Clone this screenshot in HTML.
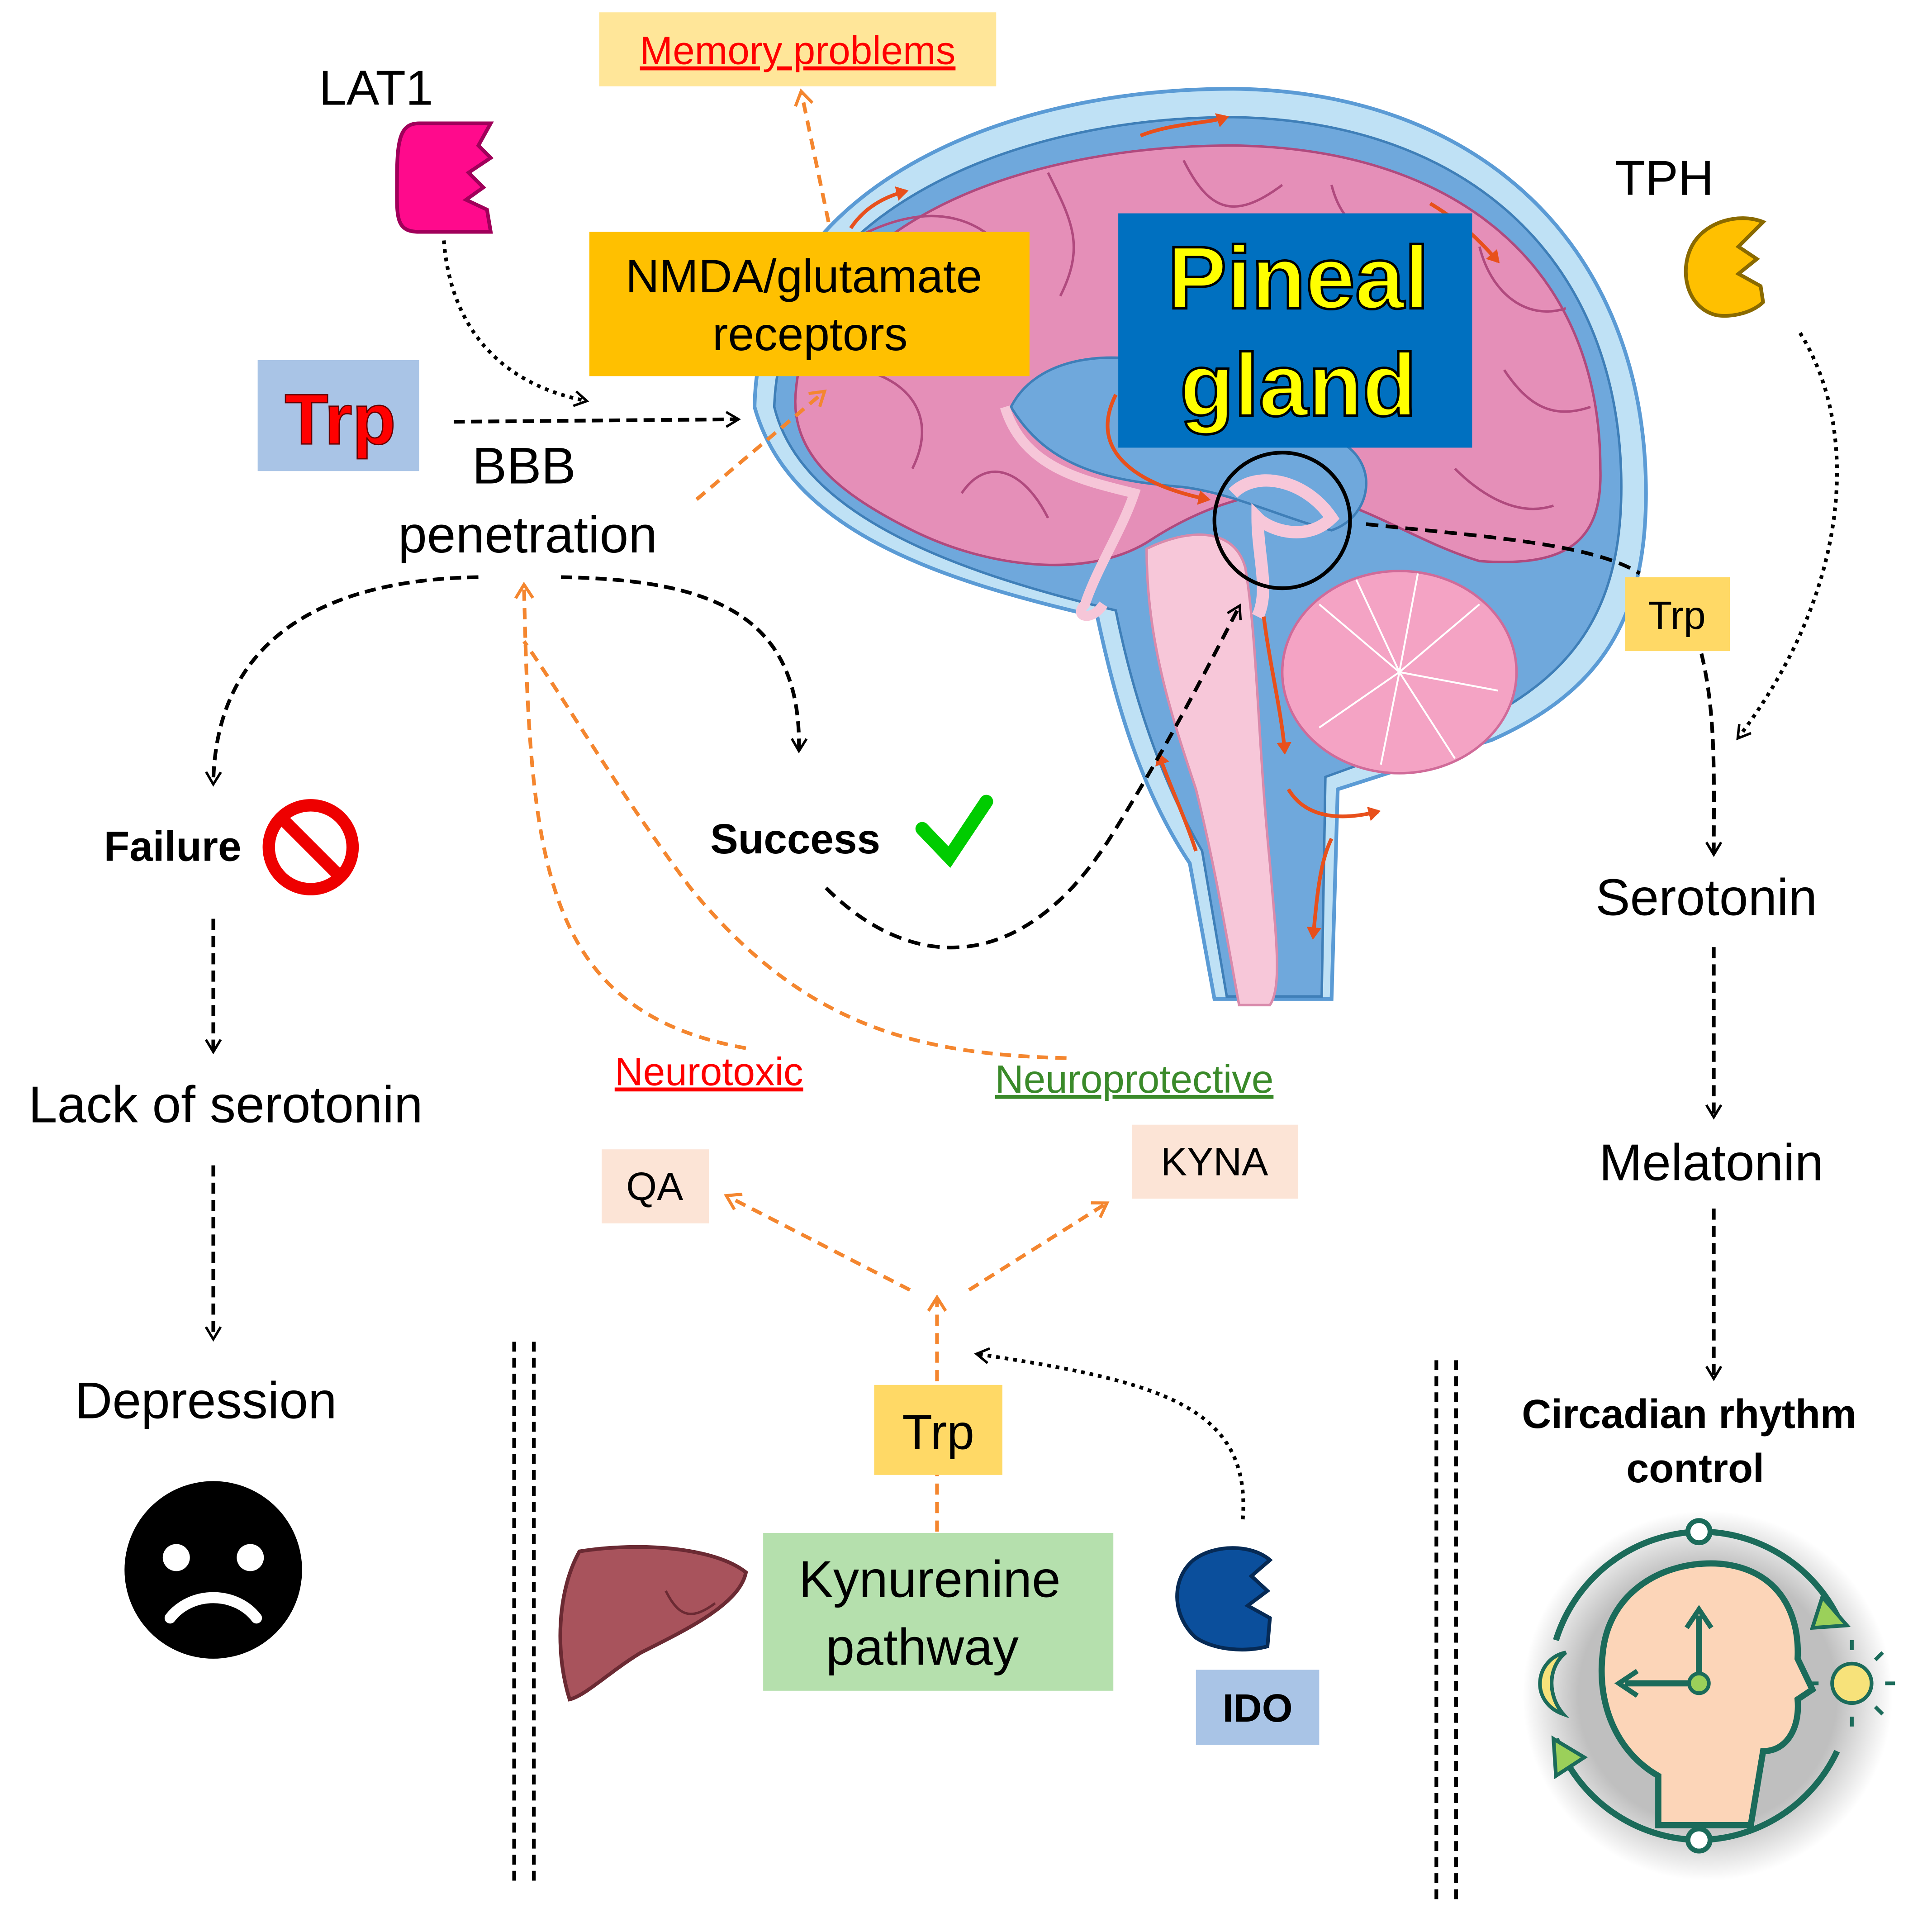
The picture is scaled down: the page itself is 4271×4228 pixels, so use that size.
<!DOCTYPE html>
<html><head><meta charset="utf-8"><style>
html,body{margin:0;padding:0;background:#fff;}
svg{display:block;}
text{font-family:"Liberation Sans",Arial,sans-serif;}
</style></head><body>
<svg width="4271" height="4228" viewBox="0 0 1567 1551" preserveAspectRatio="xMinYMin meet" xmlns="http://www.w3.org/2000/svg">
<defs>
<marker id="ab" markerWidth="14" markerHeight="14" refX="10" refY="7" orient="auto" markerUnits="userSpaceOnUse"><path d="M1,1 L11,7 L1,13" fill="none" stroke="#000" stroke-width="2"/></marker>
<marker id="ao" markerWidth="16" markerHeight="16" refX="11" refY="8" orient="auto" markerUnits="userSpaceOnUse"><path d="M1,1 L12,8 L1,15" fill="none" stroke="#f4862f" stroke-width="2.5"/></marker>
<marker id="ar" markerWidth="14" markerHeight="14" refX="8" refY="7" orient="auto" markerUnits="userSpaceOnUse"><path d="M0,1 L10,7 L0,13 Z" fill="#e8501c"/></marker>
<radialGradient id="sh" cx="0.5" cy="0.5" r="0.5"><stop offset="0.7" stop-color="#000" stop-opacity="0.25"/><stop offset="1" stop-color="#000" stop-opacity="0"/></radialGradient>
</defs>
<rect width="1567" height="1551" fill="#fff"/>

<path d="M612,330 C615,160 800,72 1000,72 C1200,74 1335,200 1335,400 C1335,500 1300,560 1210,600 L1085,640 L1080,810 L985,810 L965,700 C925,640 905,570 890,500 C760,470 640,430 612,330 Z" fill="#bfe1f5" stroke="#5b9bd5" stroke-width="3"/>
<path d="M628,330 C632,180 810,95 1000,95 C1190,98 1315,210 1315,395 C1315,490 1280,545 1200,585 L1075,630 L1072,808 L995,808 L975,690 C940,630 918,560 905,495 C780,465 650,420 628,330 Z" fill="#6fa8dc" stroke="#3f7fb8" stroke-width="2"/>
<path d="M645,325 C650,190 815,118 1000,118 C1180,120 1298,215 1298,380 C1300,440 1270,460 1200,455 C1150,440 1110,410 1060,400 C1010,395 960,420 930,440 C880,470 800,460 740,430 C680,400 645,370 645,325 Z" fill="#e58fb8" stroke="#b04a7e" stroke-width="2"/>
<path d="M700,190 C760,160 800,180 820,210 M850,140 C870,180 880,200 860,240 M960,130 C980,170 1000,180 1040,150 M1080,150 C1090,190 1120,200 1150,180 M1200,200 C1210,240 1240,260 1270,250 M700,300 C740,310 760,340 740,380 M780,400 C800,370 830,380 850,420 M1220,300 C1240,330 1260,340 1290,330 M1180,380 C1200,400 1230,420 1260,410" fill="none" stroke="#b04a7e" stroke-width="2"/>
<path d="M820,330 C840,290 900,280 960,300 C1000,320 1050,330 1090,360 C1120,380 1110,420 1080,430 C1040,420 1000,400 960,395 C900,390 850,380 820,330 Z" fill="#6fa8dc" stroke="#3f7fb8" stroke-width="2"/>
<path d="M815,330 C830,380 880,390 920,400 C910,430 890,460 880,490 C870,500 885,505 895,490" fill="none" stroke="#f6c6d8" stroke-width="8"/>
<path d="M930,445 C960,430 1000,425 1010,460 C1020,520 1020,600 1030,700 C1035,760 1040,800 1030,815 L1005,815 C995,760 985,700 970,640 C950,580 930,520 930,445 Z" fill="#f7c7d9" stroke="#d98aab" stroke-width="2"/>
<ellipse cx="1135" cy="545" rx="95" ry="82" fill="#f4a3c4" stroke="#d06b99" stroke-width="2"/>
<path d="M1135,545 L1070,490 M1135,545 L1100,470 M1135,545 L1150,465 M1135,545 L1200,490 M1135,545 L1215,560 M1135,545 L1180,615 M1135,545 L1120,620 M1135,545 L1070,590" stroke="#fff" stroke-width="1.5"/>
<path d="M1000,400 C1020,380 1060,390 1080,420 C1060,440 1030,430 1020,420 C1020,450 1030,480 1020,500" fill="none" stroke="#f7c7d9" stroke-width="10"/>
<circle cx="1040" cy="422" r="55" fill="none" stroke="#000" stroke-width="3"/>
<g fill="none" stroke="#e8501c" stroke-width="3" marker-end="url(#ar)">
<path d="M905,320 C880,370 930,395 980,405"/>
<path d="M925,110 C950,100 980,100 995,95"/>
<path d="M690,185 C700,170 715,160 735,155"/>
<path d="M1160,165 C1185,180 1200,195 1215,212"/>
<path d="M1025,500 C1030,540 1040,580 1042,610"/>
<path d="M970,690 C960,660 950,640 940,612"/>
<path d="M1045,640 C1060,665 1090,665 1118,658"/>
<path d="M1080,680 C1070,700 1068,730 1065,760"/>
</g>

<rect x="486" y="10" width="322" height="60" fill="#ffe699"/>
<text x="647" y="52" font-size="32" fill="#ff0000" text-anchor="middle" text-decoration="underline">Memory problems</text>

<text x="305" y="85" font-size="40" text-anchor="middle">LAT1</text>
<path d="M340,100 L398,100 L388,118 L398,128 L380,140 L392,152 L378,162 L395,170 L398,188 L340,188 C320,188 322,175 322,145 C322,112 325,100 340,100 Z" fill="#ff0a8c" stroke="#a0005a" stroke-width="3"/>

<rect x="209" y="292" width="131" height="90" fill="#a9c4e6"/>
<text x="276" y="360" font-size="58" font-weight="bold" fill="#ff0000" stroke="#600" stroke-width="1" text-anchor="middle">Trp</text>

<rect x="478" y="188" width="357" height="117" fill="#ffc000"/>
<text x="652" y="237" font-size="38" text-anchor="middle">NMDA/glutamate</text>
<text x="657" y="284" font-size="38" text-anchor="middle">receptors</text>

<text x="425" y="392" font-size="42" text-anchor="middle">BBB</text>
<text x="428" y="448" font-size="42" text-anchor="middle">penetration</text>

<rect x="907" y="173" width="287" height="190" fill="#0070c0"/>
<text x="1053" y="250" font-size="72" font-weight="bold" fill="#ffff00" stroke="#000" stroke-width="2" text-anchor="middle">Pineal</text>
<text x="1053" y="337" font-size="72" font-weight="bold" fill="#ffff00" stroke="#000" stroke-width="2" text-anchor="middle">gland</text>

<text x="1350" y="158" font-size="40" text-anchor="middle">TPH</text>
<path d="M1425,185 L1410,200 L1425,210 L1410,222 L1428,232 L1430,245 C1420,255 1400,258 1390,255 C1368,248 1362,220 1372,200 C1382,180 1410,172 1430,180 Z" fill="#ffc000" stroke="#8a6a00" stroke-width="3"/>

<rect x="1318" y="468" width="85" height="60" fill="#ffd966"/>
<text x="1360" y="510" font-size="32" text-anchor="middle">Trp</text>

<text x="1384" y="742" font-size="42" text-anchor="middle">Serotonin</text>
<text x="1388" y="957" font-size="42" text-anchor="middle">Melatonin</text>
<text x="1370" y="1158" font-size="33" font-weight="bold" text-anchor="middle">Circadian rhythm</text>
<text x="1375" y="1202" font-size="33" font-weight="bold" text-anchor="middle">control</text>

<text x="140" y="698" font-size="34" font-weight="bold" text-anchor="middle">Failure</text>
<circle cx="252" cy="687" r="34" fill="#fff" stroke="#e00" stroke-width="10"/>
<line x1="230" y1="665" x2="274" y2="709" stroke="#e00" stroke-width="10"/>
<text x="183" y="910" font-size="42" text-anchor="middle">Lack of serotonin</text>
<text x="167" y="1150" font-size="42" text-anchor="middle">Depression</text>
<circle cx="173" cy="1273" r="72" fill="#000"/>
<circle cx="143" cy="1263" r="11" fill="#fff"/>
<circle cx="203" cy="1263" r="11" fill="#fff"/>
<path d="M138,1312 C155,1290 191,1290 208,1312" fill="none" stroke="#fff" stroke-width="9" stroke-linecap="round"/>

<text x="645" y="692" font-size="34" font-weight="bold" text-anchor="middle">Success</text>
<path d="M748,672 L770,695 L800,650" fill="none" stroke="#00cc00" stroke-width="11" stroke-linecap="round"/>

<text x="575" y="880" font-size="32" fill="#ff0000" text-anchor="middle" text-decoration="underline">Neurotoxic</text>
<text x="920" y="886" font-size="32" fill="#3a8a2a" text-anchor="middle" text-decoration="underline">Neuroprotective</text>

<rect x="488" y="932" width="87" height="60" fill="#fce4d6"/>
<text x="531" y="973" font-size="32" text-anchor="middle">QA</text>
<rect x="918" y="912" width="135" height="60" fill="#fce4d6"/>
<text x="985" y="953" font-size="32" text-anchor="middle">KYNA</text>

<rect x="709" y="1123" width="104" height="73" fill="#ffd966"/>
<text x="761" y="1175" font-size="40" text-anchor="middle">Trp</text>

<rect x="619" y="1243" width="284" height="128" fill="#b5e0ad"/>
<text x="754" y="1295" font-size="42" text-anchor="middle">Kynurenine</text>
<text x="748" y="1350" font-size="42" text-anchor="middle">pathway</text>

<path d="M470,1258 C520,1250 580,1255 605,1275 C600,1300 560,1320 520,1340 C495,1355 475,1375 462,1378 C450,1340 452,1290 470,1258 Z" fill="#a8535c" stroke="#6b2a33" stroke-width="3"/>
<path d="M540,1290 C550,1310 560,1315 580,1300" fill="none" stroke="#6b2a33" stroke-width="2"/>

<path d="M1030,1265 L1015,1278 L1028,1290 L1012,1302 L1030,1312 L1028,1335 C1010,1340 985,1338 970,1328 C950,1310 950,1280 968,1265 C985,1252 1015,1252 1030,1265 Z" fill="#0b4f9c" stroke="#062a55" stroke-width="3"/>
<rect x="970" y="1354" width="100" height="61" fill="#a9c4e6"/>
<text x="1020" y="1396" font-size="32" font-weight="bold" text-anchor="middle">IDO</text>

<g stroke="#000" stroke-width="3" stroke-dasharray="8,5">
<line x1="417" y1="1088" x2="417" y2="1525"/><line x1="433" y1="1088" x2="433" y2="1525"/>
<line x1="1165" y1="1103" x2="1165" y2="1540"/><line x1="1181" y1="1103" x2="1181" y2="1540"/>
</g>

<circle cx="1385" cy="1375" r="150" fill="url(#sh)"/>
<path d="M1378,1242 A125,125 0 0 1 1490,1310" fill="none" stroke="#1b6b5a" stroke-width="5"/>
<path d="M1490,1420 A125,125 0 0 1 1378,1492" fill="none" stroke="#1b6b5a" stroke-width="5"/>
<path d="M1378,1492 A125,125 0 0 1 1262,1410" fill="none" stroke="#1b6b5a" stroke-width="5"/>
<path d="M1262,1330 A125,125 0 0 1 1378,1242" fill="none" stroke="#1b6b5a" stroke-width="5"/>
<circle cx="1378" cy="1242" r="9" fill="#fff" stroke="#1b6b5a" stroke-width="4"/>
<circle cx="1378" cy="1492" r="9" fill="#fff" stroke="#1b6b5a" stroke-width="4"/>
<path d="M1478,1295 L1498,1318 L1470,1320 Z" fill="#9bd05a" stroke="#1b6b5a" stroke-width="3"/>
<path d="M1260,1410 L1262,1440 L1285,1425 Z" fill="#9bd05a" stroke="#1b6b5a" stroke-width="3"/>
<path d="M1345,1480 L1345,1440 C1310,1420 1295,1380 1300,1340 C1305,1290 1350,1265 1395,1268 C1440,1272 1460,1305 1458,1345 L1470,1370 L1458,1378 C1460,1400 1450,1420 1430,1420 L1420,1480 Z" fill="#fcd5b8" stroke="#1b6b5a" stroke-width="5"/>
<line x1="1378" y1="1365" x2="1378" y2="1310" stroke="#1b6b5a" stroke-width="5"/>
<line x1="1378" y1="1365" x2="1318" y2="1365" stroke="#1b6b5a" stroke-width="5"/>
<path d="M1368,1320 L1378,1305 L1388,1320 M1328,1355 L1313,1365 L1328,1375" fill="none" stroke="#1b6b5a" stroke-width="4"/>
<circle cx="1378" cy="1365" r="8" fill="#9bd05a" stroke="#1b6b5a" stroke-width="3"/>
<path d="M1270,1340 C1245,1345 1240,1380 1268,1390 C1255,1375 1255,1352 1270,1340 Z" fill="#f7e27a" stroke="#1b6b5a" stroke-width="3"/>
<circle cx="1502" cy="1365" r="16" fill="#f7e27a" stroke="#1b6b5a" stroke-width="3"/>
<g stroke="#1b6b5a" stroke-width="3"><line x1="1502" y1="1338" x2="1502" y2="1330"/><line x1="1502" y1="1392" x2="1502" y2="1400"/><line x1="1529" y1="1365" x2="1537" y2="1365"/><line x1="1475" y1="1365" x2="1467" y2="1365"/><line x1="1521" y1="1346" x2="1527" y2="1340"/><line x1="1521" y1="1384" x2="1527" y2="1390"/></g>

<g fill="none" stroke="#000" stroke-width="3" marker-end="url(#ab)">
<path d="M360,195 C365,260 400,310 475,325" stroke-dasharray="3,4"/>
<path d="M368,342 L598,340" stroke-dasharray="9,5"/>
<path d="M388,468 C260,470 175,520 173,635" stroke-dasharray="9,5"/>
<path d="M455,468 C580,470 650,500 648,608" stroke-dasharray="9,5"/>
<path d="M173,745 L173,852" stroke-dasharray="9,5"/>
<path d="M173,945 L173,1085" stroke-dasharray="9,5"/>
<path d="M670,720 C740,790 830,790 900,680 C950,600 980,540 1005,492" stroke-dasharray="10,6"/>
<path d="M1108,425 C1200,435 1290,440 1330,465" stroke-dasharray="10,6" marker-end="none"/>
<path d="M1380,530 C1392,580 1390,630 1390,692" stroke-dasharray="9,5"/>
<path d="M1460,270 C1510,350 1500,480 1410,598" stroke-dasharray="3,4"/>
<path d="M1390,768 L1390,905" stroke-dasharray="9,5"/>
<path d="M1390,980 L1390,1117" stroke-dasharray="9,5"/>
<path d="M1008,1232 C1015,1140 940,1120 793,1098" stroke-dasharray="3,4"/>
</g>

<g fill="none" stroke="#f4862f" stroke-width="3" stroke-dasharray="9,6" marker-end="url(#ao)">
<path d="M672,180 L650,75"/>
<path d="M565,405 L668,318"/>
<path d="M605,850 C440,820 430,700 425,475"/>
<path d="M865,858 C740,855 650,830 560,720 C500,640 460,570 425,520" marker-end="none"/>
<path d="M760,1242 L760,1196" marker-end="none"/>
<path d="M760,1120 L760,1053"/>
<path d="M738,1046 L590,970"/>
<path d="M786,1046 L897,976"/>
</g>
</svg>
</body></html>
